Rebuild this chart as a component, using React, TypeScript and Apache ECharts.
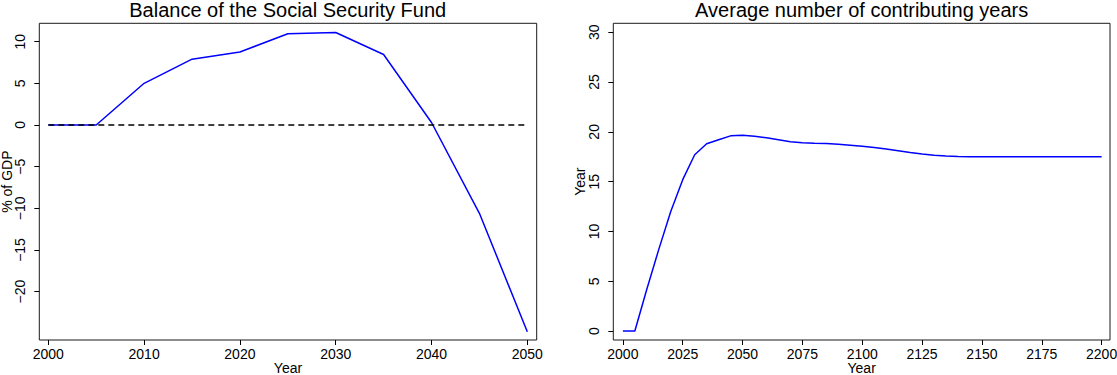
import React, { useEffect, useRef } from "react";
import * as echarts from "echarts";

const balanceYears = [2000, 2005, 2010, 2015, 2020, 2025, 2030, 2035, 2040, 2045, 2050];
const balanceValues = [0, 0, 5.0, 7.9, 8.75, 10.95, 11.1, 8.45, 0.3, -10.6, -24.8];
const zeroLineYears = [2000, 2050];
const zeroLineValues = [0, 0];

const contribYears = [
  2000, 2005, 2010, 2015, 2020, 2025, 2030, 2035, 2040, 2045, 2050, 2055, 2060, 2065, 2070, 2075,
  2080, 2085, 2090, 2095, 2100, 2105, 2110, 2115, 2120, 2125, 2130, 2135, 2140, 2145, 2150, 2155,
  2160, 2165, 2170, 2175, 2180, 2185, 2190, 2195, 2200,
];
const contribValues = [
  0, 0, 4.2, 8.2, 12.0, 15.2, 17.7, 18.8, 19.2, 19.6, 19.65, 19.55, 19.4, 19.2, 19.0, 18.9,
  18.85, 18.82, 18.75, 18.66, 18.56, 18.42, 18.27, 18.1, 17.93, 17.78, 17.65, 17.58, 17.53, 17.51, 17.5, 17.5,
  17.5, 17.5, 17.5, 17.5, 17.5, 17.5, 17.5, 17.5, 17.5,
];

const leftXTicks = [2000, 2010, 2020, 2030, 2040, 2050];
const leftYTicks = [-20, -15, -10, -5, 0, 5, 10];
const rightXTicks = [2000, 2025, 2050, 2075, 2100, 2125, 2150, 2175, 2200];
const rightYTicks = [0, 5, 10, 15, 20, 25, 30];

const FONT = "Liberation Sans, Arial, Helvetica, sans-serif";
const fmt = (v: number) => String(v).replace("-", "\u2212");

function xAxis(gridIndex: number, min: number, max: number, ticks: number[]) {
  return {
    type: "value",
    gridIndex,
    min,
    max,
    position: "bottom",
    name: "Year",
    nameLocation: "middle",
    nameGap: 21,
    nameMoveOverlap: false,
    nameTextStyle: { fontFamily: FONT, fontSize: 14, color: "#000" },
    axisLine: { show: false, onZero: false },
    splitLine: { show: false },
    axisTick: { show: true, length: 5, inside: false, customValues: ticks, lineStyle: { color: "#000", width: 1 } },
    axisLabel: {
      customValues: ticks,
      margin: 7,
      fontFamily: FONT,
      fontSize: 14,
      color: "#000",
      formatter: (v: number) => fmt(v),
    },
  };
}

function yAxis(gridIndex: number, min: number, max: number, ticks: number[], name: string, nameGap: number) {
  return {
    type: "value",
    gridIndex,
    min,
    max,
    position: "left",
    name,
    nameLocation: "middle",
    nameRotate: 90,
    nameGap,
    nameMoveOverlap: false,
    nameTextStyle: { fontFamily: FONT, fontSize: 14, color: "#000" },
    axisLine: { show: false, onZero: false },
    splitLine: { show: false },
    axisTick: { show: true, length: 5, inside: false, customValues: ticks, lineStyle: { color: "#000", width: 1 } },
    axisLabel: {
      customValues: ticks,
      rotate: 90,
      margin: 12,
      fontFamily: FONT,
      fontSize: 14,
      color: "#000",
      formatter: (v: number) => fmt(v),
    },
  };
}

export default function App() {
  const ref = useRef<HTMLDivElement>(null);
  useEffect(() => {
    if (!ref.current) return;
    const chart = echarts.init(ref.current, undefined, { renderer: "svg" });
    chart.setOption({
      animation: false,
      backgroundColor: "#fff",
      title: [
        {
          text: "Balance of the Social Security Fund",
          left: 287.7,
          top: 0,
          padding: 0,
          textAlign: "center",
          textStyle: { fontFamily: FONT, fontSize: 20, fontWeight: "normal", color: "#000" },
        },
        {
          text: "Average number of contributing years",
          left: 861.7,
          top: 0,
          padding: 0,
          textAlign: "center",
          textStyle: { fontFamily: FONT, fontSize: 20, fontWeight: "normal", color: "#000" },
        },
      ],
      grid: [
        { left: 39.3, top: 23.3, width: 497.4, height: 316.7, outerBoundsMode: "none", containLabel: false, show: true, borderColor: "#1a1a1a", borderWidth: 1, backgroundColor: "transparent" },
        { left: 613.3, top: 23.3, width: 496.7, height: 316.7, outerBoundsMode: "none", containLabel: false, show: true, borderColor: "#1a1a1a", borderWidth: 1, backgroundColor: "transparent" },
      ],
      xAxis: [
        xAxis(0, 1999.06, 2050.98, leftXTicks),
        xAxis(1, 1996, 2203.5, rightXTicks),
      ],
      yAxis: [
        yAxis(0, -25.8, 12.2, leftYTicks, "% of GDP", 25),
        yAxis(1, -0.9, 30.9, rightYTicks, "Year", 26),
      ],
      series: [
        {
          type: "line",
          xAxisIndex: 0,
          yAxisIndex: 0,
          data: balanceYears.map((y, i) => [y, balanceValues[i]]),
          showSymbol: false,
          lineStyle: { color: "#0000ff", width: 1.5 },
          z: 2,
        },
        {
          type: "line",
          xAxisIndex: 0,
          yAxisIndex: 0,
          data: zeroLineYears.map((y, i) => [y, zeroLineValues[i]]),
          showSymbol: false,
          lineStyle: { color: "#000", width: 1.3, type: [6, 4] },
          z: 3,
        },
        {
          type: "line",
          xAxisIndex: 1,
          yAxisIndex: 1,
          data: contribYears.map((y, i) => [y, contribValues[i]]),
          showSymbol: false,
          lineStyle: { color: "#0000ff", width: 1.5 },
          z: 2,
        },
      ],
    });
    return () => chart.dispose();
  }, []);
  return (
    <div
      ref={ref}
      style={{ position: "absolute", left: 0, top: 0, width: 1117, height: 375 }}
    />
  );
}
